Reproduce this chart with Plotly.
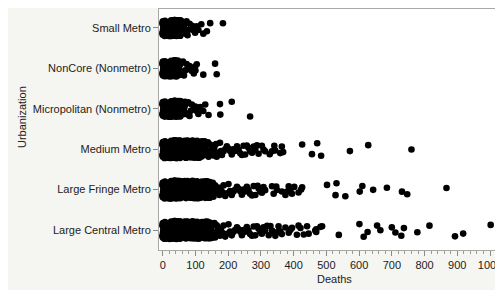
import plotly.graph_objects as go

# Categories (bottom to top on the axis)
categories = ["Large Central Metro", "Large Fringe Metro", "Medium Metro",
              "Micropolitan (Nonmetro)", "NonCore (Nonmetro)", "Small Metro"]

# Deaths per county (dense mass, tail, far outliers)
small_core = [0,0,1,1,2,2,3,3,4,4,5,5,6,6,7,7,8,8,9,9,10,10,11,11,12,12,13,13,14,14,15,15,16,16,17,17,18,18,19,19,
              20,20,21,21,22,22,23,23,24,24,25,25,26,26,27,27,28,28,29,29,30,30,31,31,32,32,33,33,34,34,35,35,
              36,36,37,37,38,38,39,39,40,40,41,41,42,42,43,43,44,44,45,45,46,46,47,47,48,48,49,49,50,50,51,51,
              52,52,53,53,54,54,55,55,56,56,57,57,58,58,59,59,60,60,61,61,62,62,63,63,64]
small_tail = [67,70,73,76,78,82,86,90,94,99,104,109,118,124,135,145]
small_far = [184]

noncore_core = [0,0,1,1,2,2,3,3,4,4,5,5,6,6,7,7,8,8,9,9,10,10,11,11,12,12,13,13,14,14,15,15,16,16,17,17,18,18,19,19,
                20,20,21,21,22,22,23,23,24,24,25,25,26,26,27,27,28,28,29,29,30,30,31,31,32,32,33,33,34,34,35,35,
                36,36,37,37,38,38,39,39,40,40,41,41,42,42,43,43,44,44,45,45,46,46,47,47,48,48,49,49,50,50,51,52]
noncore_tail = [55,58,62,65,69,73,77,82,88,95,99,100,104,124]
noncore_far = [160,165]

micro_core = [0,0,1,1,2,2,3,3,4,4,5,5,6,6,7,7,8,8,9,9,10,10,11,11,12,12,13,13,14,14,15,15,16,16,17,17,18,18,19,19,
              20,20,21,21,22,22,23,23,24,24,25,25,26,26,27,27,28,28,29,29,30,30,31,31,32,32,33,33,34,34,35,35,
              36,36,37,37,38,38,39,39,40,40,41,41,42,42,43,43,44,44,45,45,46,46,47,47,48,48,49,49,50,50,51,51,
              52,52,53,53,54,54,55,55,56,56,57,57,58,58,59,59,60,60,61,61,62,62,63,63,64,64,65,65,66,66,67,68]
micro_tail = [71,74,78,82,86,89,95,100,104,109,115,124,130,140]
micro_far = [175,176,211,267]

medium_core = [0,0,1,1,2,2,3,3,4,4,5,5,6,6,7,7,8,8,9,9,10,10,11,11,12,12,13,13,14,14,15,15,16,16,17,17,18,18,19,19,
               20,20,21,21,22,22,23,23,24,24,25,25,26,26,27,27,28,28,29,29,30,30,31,31,32,32,33,33,34,34,35,35,
               36,36,37,37,38,38,39,39,40,40,41,41,42,42,43,43,44,44,45,45,46,46,47,47,48,48,49,49,50,50,51,51,
               52,52,53,53,54,54,55,55,56,56,57,57,58,58,59,59,60,60,61,61,62,62,63,63,64,64,65,65,66,66,67,67,
               68,68,69,69,70,70,71,71,72,72,73,73,74,74,75,75,76,76,77,77,78,78,79,79,80,80,81,81,82,82,83,83,
               84,84,85,85,86,86,87,87,88,88,89,89,90,90,91,91,92,92,93,93,94,94,95,95,96,96,97,97,98,98,99,99,
               100,100,101,101,102,102,103,103,104,104,105,105,106,106,107,107,108,108,109,109,110,110,111,111,
               112,112,113,113,114,114,115,115,116,116,117,117,118,118,119,119,120,120,121,121,122,122,123,123,
               124,124,125,125,126,126,127,127,128,128,129,130]
medium_tail = [133,135,138,140,143,145,148,150,153,155,158,160,163,165,170,175,178,181,186,191,196,201,
               206,211,216,221,227,232,237,242,247,252,257,262,267,273,278,283,288,293,303,308,313,327,
               334,341,344,359,364,368]
medium_far = [426,456,472,484,572,628,760]

fringe_core = [0,0,1,1,2,2,3,3,4,4,5,5,6,6,7,7,8,8,9,9,10,10,11,11,12,12,13,13,14,14,15,15,16,16,17,17,18,18,19,19,
               20,20,21,21,22,22,23,23,24,24,25,25,26,26,27,27,28,28,29,29,30,30,31,31,32,32,33,33,34,34,35,35,
               36,36,37,37,38,38,39,39,40,40,41,41,42,42,43,43,44,44,45,45,46,46,47,47,48,48,49,49,50,50,51,51,
               52,52,53,53,54,54,55,55,56,56,57,57,58,58,59,59,60,60,61,61,62,62,63,63,64,64,65,65,66,66,67,67,
               68,68,69,69,70,70,71,71,72,72,73,73,74,74,75,75,76,76,77,77,78,78,79,79,80,80,81,81,82,82,83,83,
               84,84,85,85,86,86,87,87,88,88,89,89,90,90,91,91,92,92,93,93,94,94,95,95,96,96,97,97,98,98,99,99,
               100,100,101,101,102,102,103,103,104,104,105,105,106,106,107,107,108,108,109,109,110,110,111,111,
               112,112,113,113,114,114,115,115,116,116,117,117,118,118,119,119,120,120,121,121,122,122,123,123,
               124,124,125,125,126,126,127,127,128,128,129,129,130,130,131,131,132,132,133,133,134,134,135,135,
               136,136,137,137,138,138,139,139,140,140,141,141,142,142,143,143,144,145]
fringe_tail = [148,150,153,155,158,160,163,166,170,173,176,181,186,191,196,201,206,211,216,221,227,232,
               237,242,247,252,257,262,267,273,278,283,290,293,298,303,308,313,334,339,347,349,364,375,
               380,385,390,395,402,415,423,426]
fringe_far = [502,528,531,558,602,610,643,685,731,747,867]

central_core = [0,0,1,1,2,2,3,3,4,4,5,5,6,6,7,7,8,8,9,9,10,10,11,11,12,12,13,13,14,14,15,15,16,16,17,17,18,18,19,19,
                20,20,21,21,22,22,23,23,24,24,25,25,26,26,27,27,28,28,29,29,30,30,31,31,32,32,33,33,34,34,35,35,
                36,36,37,37,38,38,39,39,40,40,41,41,42,42,43,43,44,44,45,45,46,46,47,47,48,48,49,49,50,50,51,51,
                52,52,53,53,54,54,55,55,56,56,57,57,58,58,59,59,60,60,61,61,62,62,63,63,64,64,65,65,66,66,67,67,
                68,68,69,69,70,70,71,71,72,72,73,73,74,74,75,75,76,76,77,77,78,78,79,79,80,80,81,81,82,82,83,83,
                84,84,85,85,86,86,87,87,88,88,89,89,90,90,91,91,92,92,93,93,94,94,95,95,96,96,97,97,98,98,99,99,
                100,100,101,101,102,102,103,103,104,104,105,105,106,106,107,107,108,108,109,109,110,110,111,111,
                112,112,113,113,114,114,115,115,116,116,117,117,118,118,119,119,120,120,121,121,122,122,123,123,
                124,124,125,125,126,126,127,127,128,128,129,129,130,130,131,131,132,132,133,133,134,134,135,135,
                136,136,137,137,138,138,139,139,140,140,141,141,142,142,143,143,144,144,145,145,146,146,147,147,
                148,149,150]
central_tail = [153,155,158,160,163,165,168,170,173,175,178,181,186,191,196,201,206,211,216,221,227,232,
                237,242,247,252,257,262,267,273,278,283,288,293,298,303,308,313,319,324,329,334,339,344,
                349,354,359,364,375,385,390,395,410,415,421,431,441,446,466,469,469,482]
central_far = [487,538,601,614,626,655,665,700,711,729,737,778,815,893,918,1002]

x_ticks = [0, 100, 200, 300, 400, 500, 600, 700, 800, 900, 1000]

groups = [
    ("Small Metro", [small_core, small_tail, small_far]),
    ("NonCore (Nonmetro)", [noncore_core, noncore_tail, noncore_far]),
    ("Micropolitan (Nonmetro)", [micro_core, micro_tail, micro_far]),
    ("Medium Metro", [medium_core, medium_tail, medium_far]),
    ("Large Fringe Metro", [fringe_core, fringe_tail, fringe_far]),
    ("Large Central Metro", [central_core, central_tail, central_far]),
]

fig = go.Figure()
for cat, parts in groups:
    for k, vals in enumerate(parts):
        core = (k == 0)
        fig.add_trace(go.Box(
            x=vals, y=[cat] * len(vals), orientation="h",
            boxpoints="all", jitter=1, pointpos=0, width=0.43 if core else 0.45,
            fillcolor="rgba(0,0,0,0)", line=dict(width=0, color="rgba(0,0,0,0)"),
            marker=dict(color="black", size=7.2 if core else 6.6, opacity=1),
            showlegend=False, hoverinfo="x+y",
        ))

# page has an 8px body margin, figure is sized to fill the rest of the window
W, H = 495, 282
L, R, T, B = 151, 3, 1, 40
pw, ph = W - L - R, H - T - B

font_family = "Liberation Sans, Arial, sans-serif"
fig.update_layout(
    width=W, height=H,
    margin=dict(l=L, r=R, t=T, b=B),
    paper_bgcolor="#f5f5f1", plot_bgcolor="white",
    boxmode="overlay",
    font=dict(family=font_family, size=11, color="#222"),
    xaxis=dict(range=[-11.3, 1030.5], tickvals=x_ticks, ticks="outside", ticklen=5,
               tickcolor="#8a8a8a", showgrid=False, zeroline=False, showline=True,
               linecolor="#a8a8a8", linewidth=1, mirror=True,
               minor=dict(dtick=20, ticks="outside", ticklen=3, tickcolor="#9a9a9a"),
               tickfont=dict(size=11, color="#222")),
    yaxis=dict(type="category", categoryorder="array", categoryarray=categories,
               range=[-0.495, 5.47], ticks="outside", ticklen=5, tickcolor="#8a8a8a",
               showgrid=False, zeroline=False, showline=True, linecolor="#a8a8a8",
               linewidth=1, mirror=True, tickfont=dict(size=11, color="#222")),
    annotations=[
        dict(text="Urbanization", xref="paper", yref="paper", x=(14 - L) / pw, y=(H - B - 109) / ph,
             textangle=-90, showarrow=False, xanchor="center", yanchor="middle",
             font=dict(size=11, color="#222")),
        dict(text="Deaths", xref="paper", yref="paper", x=(326 - L) / pw, y=(H - B - 271) / ph,
             showarrow=False, xanchor="center", yanchor="middle", font=dict(size=11, color="#222")),
    ],
)

fig.write_html("out.html")
